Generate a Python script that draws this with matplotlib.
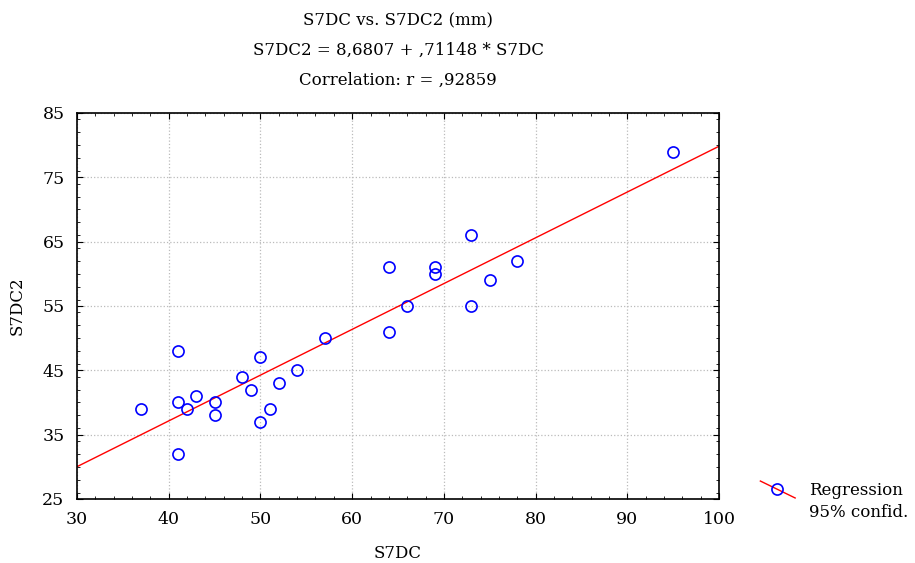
import matplotlib.pyplot as plt
import numpy as np
from matplotlib.lines import Line2D
from matplotlib.ticker import MultipleLocator

# S7DC measurements and the matching S7DC2 values (mm)
s7dc = [37, 41, 41, 41, 42, 43, 45, 45, 48, 49, 50, 50, 51,
        52, 54, 57, 64, 64, 66, 69, 69, 73, 73, 75, 78, 95]
s7dc2 = [39, 48, 40, 32, 39, 41, 40, 38, 44, 42, 47, 37, 39,
         43, 45, 50, 61, 51, 55, 61, 60, 66, 55, 59, 62, 79]

intercept = 8.6807
slope = 0.71148
r = 0.92859

plt.rcParams['font.family'] = ['DejaVu Serif']

fig = plt.figure(figsize=(9.15, 5.63), dpi=100)
ax = fig.add_axes([0.0842, 0.1137, 0.7016, 0.6856])

xs = np.array([30, 100])
ax.plot(xs, intercept + slope * xs, color='red', lw=1)
ax.plot(s7dc, s7dc2, 'o', mfc='none', mec='blue', ms=8, mew=1.2)

ax.set_xlim(30, 100)
ax.set_ylim(25, 85)
ax.set_xticks(np.arange(30, 101, 10))
ax.set_yticks(np.arange(25, 86, 10))
ax.xaxis.set_minor_locator(MultipleLocator(2))
ax.yaxis.set_minor_locator(MultipleLocator(2))
ax.tick_params(which='both', direction='in', top=True, right=True, labelsize=12.5)
ax.tick_params(which='major', length=4, pad=9)
ax.tick_params(which='minor', length=2.5)
ax.grid(True, which='major', color='#bbbbbb', linestyle=':', linewidth=0.9)
for s in ax.spines.values():
    s.set_linewidth(1.2)

ax.set_xlabel('S7DC', fontsize=12, labelpad=12)
ax.set_ylabel('S7DC2', fontsize=12, labelpad=12)

title = ('S7DC vs. S7DC2 (mm)\n'
         'S7DC2 = 8,6807 + ,71148 * S7DC\n'
         f'Correlation: r = ,{round(r * 100000)}')
ax.set_title(title, fontsize=12, linespacing=2.0, pad=20)

# legend drawn by hand: diagonal line through a marker
fig.add_artist(Line2D([0.831, 0.869], [0.1456, 0.1155], color='red', lw=1))
fig.add_artist(Line2D([0.849], [0.1315], marker='o', mfc='none',
                      mec='blue', ms=8, mew=1.2))
fig.text(0.884, 0.128, 'Regression', fontsize=12, va='center')
fig.text(0.884, 0.089, '95% confid.', fontsize=12, va='center')

fig.savefig('out.png', dpi=100)
